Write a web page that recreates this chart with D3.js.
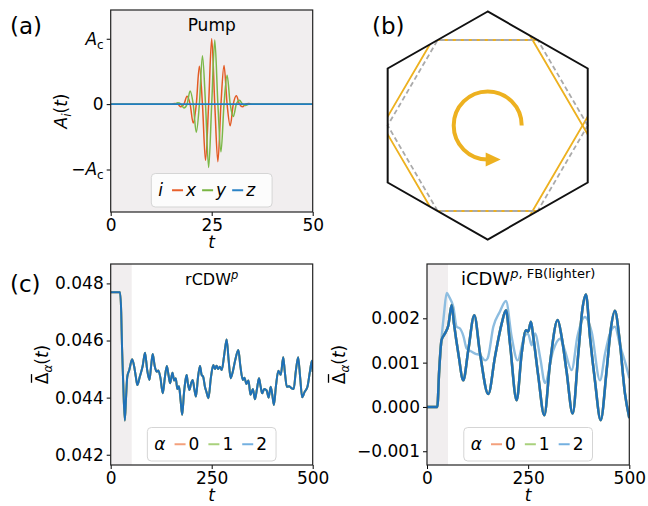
<!DOCTYPE html>
<html>
<head>
<meta charset="utf-8">
<script src="https://cdn.jsdelivr.net/npm/d3@7"></script>
<style>
body { margin: 0; background: #fff; }
text { font-family: "DejaVu Sans", sans-serif; }
</style>
</head>
<body>
<div id="fig"></div>
<script>
// ---------- data ----------
// (a) pump pulse, [t, A/A_c]
var pumpX = [[0,0],[15.1,0],[15.85,0.01],[16.61,0],[17.37,-0.04],[18.13,0],[18.90,0.12],[19.66,0],
  [20.42,-0.29],[21.19,0],[21.95,0.58],[22.71,0],[23.47,-0.86],[24.24,0],[25.00,1.00],[25.76,0],
  [26.53,-0.88],[27.29,0],[28.05,0.59],[28.81,0],[29.58,-0.33],[30.34,0],[31.10,0.13],[31.87,0],
  [32.63,-0.04],[33.39,0],[34.15,0.01],[34.9,0],[50,0]];
var pumpY = [[0,0],[15.85,0],[16.61,0.02],[17.37,0],[18.13,-0.06],[18.90,0],[19.66,0.20],[20.42,0],
  [21.19,-0.43],[21.95,0],[22.71,0.74],[23.47,0],[24.24,-0.97],[25.00,0],[25.76,0.98],[26.53,0],
  [27.29,-0.73],[28.05,0],[28.81,0.44],[29.58,0],[30.34,-0.19],[31.10,0],[31.87,0.06],[32.63,0],
  [33.39,-0.02],[34.15,0],[50,0]];
var pumpZ = [[0,0],[50,0]];

// (c) rCDW order parameter, [t, value]
var rcdw = [[0,0.04769],[23,0.04769],[26,0.0470],[28,0.04578],[31,0.0445],[35,0.04320],[38,0.0440],
  [41,0.04473],[46,0.04497],[53,0.04534],[58,0.0451],[62,0.04475],[66,0.04444],[72,0.04473],[79,0.0451],
  [85,0.04557],[90,0.0450],[96,0.04462],[100,0.0451],[104,0.04553],[109,0.0451],[114,0.04491],[118,0.04495],
  [123,0.04470],[129,0.04415],[134,0.0447],[139,0.04511],[143,0.0448],[147,0.04450],[150,0.0447],
  [153,0.04487],[157,0.0446],[161,0.04468],[165,0.0443],[169,0.04440],[173,0.0439],[177,0.04340],
  [181,0.0441],[185,0.04460],[188,0.04479],[191,0.0445],[195,0.04427],[199,0.0445],[203,0.04462],
  [207,0.0443],[211,0.04404],[216,0.0447],[221,0.04511],[225,0.0448],[229,0.04473],[233,0.0444],
  [237,0.0442],[242,0.04398],[248,0.0447],[254,0.04514],[258,0.0450],[262,0.04512],[266,0.0450],
  [270,0.04508],[275,0.04497],[281,0.0455],[287,0.04604],[292,0.0453],[297,0.04468],[302,0.0449],
  [308,0.0453],[316,0.04567],[321,0.0451],[327,0.04462],[331,0.0447],[336,0.04448],[341,0.0446],
  [346,0.0441],[352,0.0443],[357,0.04394],[362,0.0443],[367,0.04468],[371,0.0444],[375,0.04415],
  [380,0.0443],[386,0.04425],[391,0.0440],[396,0.04438],[400,0.0441],[404,0.04374],[409,0.0444],
  [415,0.04494],[421,0.0448],[427,0.04541],[431,0.0449],[436,0.04438],[442,0.0444],[448,0.04432],
  [453,0.0443],[458,0.0449],[464,0.04541],[469,0.0447],[474,0.04401],[480,0.0442],[487,0.04438],
  [493,0.0449],[498,0.04529],[500,0.0449]];

// (d) iCDW, full and FB (lighter)
var icdw = [[0,0],[25.5,0],[30,0.0008],[36,0.00151],[44.5,0.00166],[52.7,0.00184],[61,0.00230],
  [66.7,0.00188],[77.4,0.00121],[89.7,0.00060],[102,0.00128],[116.9,0.00207],[131,0.00121],
  [151.5,0.00029],[168,0.00113],[184.6,0.00188],[195.2,0.00218],[205.1,0.00143],[221.6,0.00015],
  [234,0.00121],[244.6,0.00173],[250,0.00170],[257,0.00192],[262.7,0.00158],[275,0.0007],
  [289.9,-0.00019],[304,0.00098],[323,0.00196],[332.8,0.00158],[345,0.0008],[360,-0.00015],
  [374,0.00121],[384,0.0022],[392.9,0.00254],[402.8,0.00158],[415,0.0006],[429.2,-0.00030],
  [444,0.00083],[453.9,0.00173],[464.5,0.00217],[475.2,0.00158],[489.3,0.00030],[500,-0.00025]];
var icdwFB = [[0,0],[25.5,0],[30,0.0008],[36,0.00155],[42,0.0021],[48.6,0.00257],[55,0.00248],
  [65,0.00226],[73.3,0.00181],[81.5,0.00177],[90,0.0016],[98,0.00132],[110,0.00125],[120,0.00120],
  [131,0.00117],[144,0.00105],[150,0.0011],[163.9,0.00181],[180,0.00215],[195.2,0.00239],
  [209.3,0.00158],[224,0.00105],[242,0.00162],[250,0.00165],[258.6,0.00139],[266.9,0.00166],
  [280,0.0011],[291.6,0.00054],[312,0.00128],[328.6,0.00154],[340,0.00130],[357.5,0.00083],
  [372,0.0016],[390.4,0.00203],[407,0.00169],[427.5,0.00060],[440,0.0012],[452.2,0.00166],
  [464.5,0.00181],[477,0.00139],[490,0.0010],[500,0.00065]];

var pumpTicksX = [0, 25, 50];
var pumpTicksY = [-1, 0, 1];
var timeTicks = [0, 250, 500];
var rcdwTicks = [0.042, 0.044, 0.046, 0.048];
var icdwTicks = [-0.001, 0, 0.001, 0.002];
var shadeEnd = 52;
var pumpLabels = ["x", "y", "z"];
var alphaLabels = ["0", "1", "2"];

// ---------- style ----------
var fs = 17;
var cPump = ["#e35a24", "#7cb848", "#1f7ec2"];
var cPumpLeg = ["#e8602c", "#79b543", "#2b83c6"];
var cAlpha = ["#ee8a60", "#8fc064", "#1f70b8"];
var cAlphaLeg = ["#f3a07c", "#a9d17c", "#74b0e0"];
var cLight = "#8dbde0";
var shade = "#f1eeef";
var gold = "#edb120";

var svg = d3.select("#fig").append("svg").attr("width", 648).attr("height", 506);

function styleAxis(sel) {
  sel.select(".domain").remove();
  sel.selectAll("line").attr("stroke", "#000").attr("stroke-width", 1);
  sel.selectAll("text").attr("font-size", fs).attr("fill", "#000")
    .attr("font-family", '"DejaVu Sans", sans-serif');
}

function axes(x, y, xt, yt, yfmt) {
  svg.append("g").attr("transform", "translate(0," + y.range()[0] + ")")
    .call(d3.axisBottom(x).tickValues(xt).tickSize(4).tickPadding(3).tickFormat(d3.format("d")))
    .call(styleAxis);
  return svg.append("g").attr("transform", "translate(" + x.range()[0] + ",0)")
    .call(d3.axisLeft(y).tickValues(yt).tickSize(4).tickPadding(3).tickFormat(yfmt))
    .call(styleAxis);
}

function frame(x, y) {
  svg.append("rect").attr("x", x.range()[0]).attr("y", y.range()[1])
    .attr("width", x.range()[1] - x.range()[0]).attr("height", y.range()[0] - y.range()[1])
    .attr("fill", "none").attr("stroke", "#222").attr("stroke-width", 1.2);
}

function clipFor(id, x, y) {
  svg.append("clipPath").attr("id", id).append("rect")
    .attr("x", x.range()[0]).attr("y", y.range()[1])
    .attr("width", x.range()[1] - x.range()[0]).attr("height", y.range()[0] - y.range()[1]);
  return svg.append("g").attr("clip-path", "url(#" + id + ")");
}

function xLabel(x, y) {
  svg.append("text").attr("x", (x.range()[0] + x.range()[1]) / 2).attr("y", y.range()[0] + 36)
    .attr("text-anchor", "middle").attr("font-size", fs).attr("font-style", "italic").text("t");
}

function yLabel(px, y, build) {
  var g = svg.append("g")
    .attr("transform", "translate(" + px + "," + (y.range()[0] + y.range()[1]) / 2 + ") rotate(-90)");
  var t = g.append("text").attr("text-anchor", "middle").attr("font-size", fs);
  build(t, g);
}

function deltaLabel(t, g) {
  t.append("tspan").text("\u0394");
  t.append("tspan").attr("font-style", "italic").attr("font-size", 12).attr("dy", 4).text("\u03b1");
  t.append("tspan").attr("dy", -4).text("(");
  t.append("tspan").attr("font-style", "italic").text("t");
  t.append("tspan").text(")");
  var e = t.node().getExtentOfChar(0);
  g.append("line").attr("x1", e.x + 1.5).attr("x2", e.x + e.width - 1.5)
    .attr("y1", -16.5).attr("y2", -16.5).attr("stroke", "#000").attr("stroke-width", 1.3);
}

function legend(cx, bottom, title, labels, colors, italicLabels, sp, padR) {
  var lg = svg.append("g");
  var h = 33.5, x = 7, mid = h / 2;
  var t = lg.append("text").attr("x", x).attr("y", mid).attr("dy", "0.32em")
    .attr("font-size", fs).attr("font-style", "italic").text(title);
  x += t.node().getComputedTextLength() + 9;
  labels.forEach(function (lab, i) {
    lg.append("line").attr("x1", x).attr("x2", x + 11).attr("y1", mid).attr("y2", mid)
      .attr("stroke", colors[i]).attr("stroke-width", 2);
    x += 14;
    var tt = lg.append("text").attr("x", x).attr("y", mid).attr("dy", "0.32em")
      .attr("font-size", fs).attr("font-style", italicLabels ? "italic" : "normal").text(lab);
    x += tt.node().getComputedTextLength() + sp;
  });
  var w = x - sp + padR;
  lg.insert("rect", ":first-child").attr("width", w).attr("height", h).attr("rx", 4)
    .attr("fill", "#fff").attr("fill-opacity", 0.8).attr("stroke", "#d5d5d5");
  lg.attr("transform", "translate(" + (cx - w / 2) + "," + (bottom - h) + ")");
}

function panelLabel(x, y, s) {
  svg.append("text").attr("x", x).attr("y", y).attr("font-size", 23).text(s);
}

function title(x, yTop, size, build) {
  var t = svg.append("text").attr("x", (x.range()[0] + x.range()[1]) / 2).attr("y", yTop)
    .attr("text-anchor", "middle").attr("font-size", size);
  build(t);
}

// ---------- (a) pump ----------
var xA = d3.scaleLinear().domain([0, 50]).range([110.7, 312.7]);
var yA = d3.scaleLinear().domain([-1.65, 1.44]).range([212, 10]);
svg.append("rect").attr("x", xA.range()[0]).attr("y", yA.range()[1])
  .attr("width", xA.range()[1] - xA.range()[0]).attr("height", yA.range()[0] - yA.range()[1])
  .attr("fill", shade);
var gA = clipFor("clipA", xA, yA);
var lineA = d3.line().x(function (d) { return xA(d[0]); }).y(function (d) { return yA(d[1]); })
  .curve(d3.curveMonotoneX);
[pumpX, pumpY, pumpZ].forEach(function (s, i) {
  gA.append("path").attr("d", lineA(s)).attr("fill", "none").attr("stroke", cPump[i])
    .attr("stroke-width", i === 2 ? 1.8 : 1.5);
});
var ayA = axes(xA, yA, pumpTicksX, pumpTicksY, function () { return ""; });
ayA.selectAll(".tick text").each(function (d) {
  var t = d3.select(this);
  if (d === 0) { t.text("0"); return; }
  if (d < 0) t.append("tspan").text("\u2212");
  t.append("tspan").attr("font-style", "italic").text("A");
  t.append("tspan").attr("font-size", 12).attr("dy", 4).text("c");
});
frame(xA, yA);
xLabel(xA, yA);
yLabel(67, yA, function (t) {
  t.append("tspan").attr("font-style", "italic").text("A");
  t.append("tspan").attr("font-style", "italic").attr("font-size", 12).attr("dy", 4).text("i");
  t.append("tspan").attr("dy", -4).text("(");
  t.append("tspan").attr("font-style", "italic").text("t");
  t.append("tspan").text(")");
});
title(xA, 31, fs, function (t) { t.text("Pump"); });
legend((xA.range()[0] + xA.range()[1]) / 2, yA.range()[0] - 5, "i", pumpLabels, cPumpLeg, true, 6, 17);
panelLabel(10, 34, "(a)");

// ---------- (b) Brillouin zone ----------
var xB = d3.scaleLinear().domain([-1, 1]).range([487.7 - 115.5, 487.7 + 115.5]);
var yB = d3.scaleLinear().domain([-1, 1]).range([125.5 + 114, 125.5 - 114]);
var bzRadius = 1, fsRadius = Math.sqrt(3) / 2, fsShift = -0.045;
var hexLine = d3.line().x(function (d) { return xB(d[0]); }).y(function (d) { return yB(d[1]); })
  .curve(d3.curveLinearClosed);
function hex(r, a0, dx, dy) {
  return d3.range(6).map(function (k) {
    var a = (a0 + 60 * k) * Math.PI / 180;
    return [dx + r * Math.cos(a), dy + r * Math.sin(a)];
  });
}
svg.append("clipPath").attr("id", "clipBZ").append("path").attr("d", hexLine(hex(bzRadius, 90, 0, 0)));
var gB = svg.append("g").attr("clip-path", "url(#clipBZ)");
var shifts = [[0, 0]].concat(d3.range(6).map(function (k) {
  var a = 60 * k * Math.PI / 180;
  return [2 * fsRadius * Math.cos(a), 2 * fsRadius * Math.sin(a)];
}));
shifts.forEach(function (g) {
  gB.append("path").attr("d", hexLine(hex(fsRadius, 0, g[0] + fsShift, g[1])))
    .attr("fill", "none").attr("stroke", gold).attr("stroke-width", 1.8);
});
svg.append("path").attr("d", hexLine(hex(fsRadius, 0, 0, 0))).attr("fill", "none")
  .attr("stroke", "#aaaaaa").attr("stroke-width", 1.8).attr("stroke-dasharray", "5,3");
svg.append("path").attr("d", hexLine(hex(bzRadius, 90, 0, 0))).attr("fill", "none")
  .attr("stroke", "#111").attr("stroke-width", 2).attr("stroke-linejoin", "miter");
var cx = xB(0), cy = yB(0), rr = 34;
var arc = d3.path();
arc.arc(cx, cy, rr, 0, Math.PI / 2, true);
svg.append("path").attr("d", arc.toString()).attr("fill", "none").attr("stroke", gold).attr("stroke-width", 4);
svg.append("path").attr("d", "M" + (cx - 2) + "," + (cy + rr - 7) + "L" + (cx + 13) + "," + (cy + rr) +
  "L" + (cx - 2) + "," + (cy + rr + 7) + "Z").attr("fill", gold);
panelLabel(372, 34, "(b)");

// ---------- (c) rCDW ----------
var xC = d3.scaleLinear().domain([0, 500]).range([110.7, 312.7]);
var yC = d3.scaleLinear().domain([0.04164, 0.04868]).range([465, 264]);
svg.append("rect").attr("x", xC(0)).attr("y", yC.range()[1]).attr("width", xC(shadeEnd) - xC(0))
  .attr("height", yC.range()[0] - yC.range()[1]).attr("fill", shade);
var gC = clipFor("clipC", xC, yC);
var lineC = d3.line().x(function (d) { return xC(d[0]); }).y(function (d) { return yC(d[1]); })
  .curve(d3.curveMonotoneX);
alphaLabels.forEach(function (a, i) {
  gC.append("path").attr("d", lineC(rcdw)).attr("fill", "none").attr("stroke", cAlpha[i])
    .attr("stroke-width", 2);
});
axes(xC, yC, timeTicks, rcdwTicks, d3.format(".3f"));
frame(xC, yC);
xLabel(xC, yC);
yLabel(48, yC, deltaLabel);
title(xC, 285, 16, function (t) {
  t.append("tspan").text("rCDW");
  t.append("tspan").attr("font-style", "italic").attr("font-size", 11.5).attr("dy", -6.5).text("p");
});
legend((xC.range()[0] + xC.range()[1]) / 2, yC.range()[0] - 4, "\u03b1", alphaLabels, cAlphaLeg, false, 9, 9);
panelLabel(10, 292, "(c)");

// ---------- (d) iCDW ----------
var xD = d3.scaleLinear().domain([0, 500]).range([427, 629.3]);
var yD = d3.scaleLinear().domain([-0.00131, 0.003226]).range([465, 264]);
svg.append("rect").attr("x", xD(0)).attr("y", yD.range()[1]).attr("width", xD(shadeEnd) - xD(0))
  .attr("height", yD.range()[0] - yD.range()[1]).attr("fill", shade);
var gD = clipFor("clipD", xD, yD);
var lineD = d3.line().x(function (d) { return xD(d[0]); }).y(function (d) { return yD(d[1]); })
  .curve(d3.curveMonotoneX);
gD.append("path").attr("d", lineD(icdwFB)).attr("fill", "none").attr("stroke", cLight).attr("stroke-width", 2.4);
alphaLabels.forEach(function (a, i) {
  gD.append("path").attr("d", lineD(icdw)).attr("fill", "none").attr("stroke", cAlpha[i])
    .attr("stroke-width", 2.5);
});
axes(xD, yD, timeTicks, icdwTicks, d3.format(".3f"));
frame(xD, yD);
xLabel(xD, yD);
yLabel(345, yD, deltaLabel);
title(xD, 285, 18, function (t) {
  t.append("tspan").text("iCDW");
  t.append("tspan").attr("font-style", "italic").attr("font-size", 13).attr("dy", -7).text("p");
  t.append("tspan").attr("font-size", 13).text(", FB(lighter)");
});
legend((xD.range()[0] + xD.range()[1]) / 2, yD.range()[0] - 4, "\u03b1", alphaLabels, cAlphaLeg, false, 9, 9);
</script>
</body>
</html>
